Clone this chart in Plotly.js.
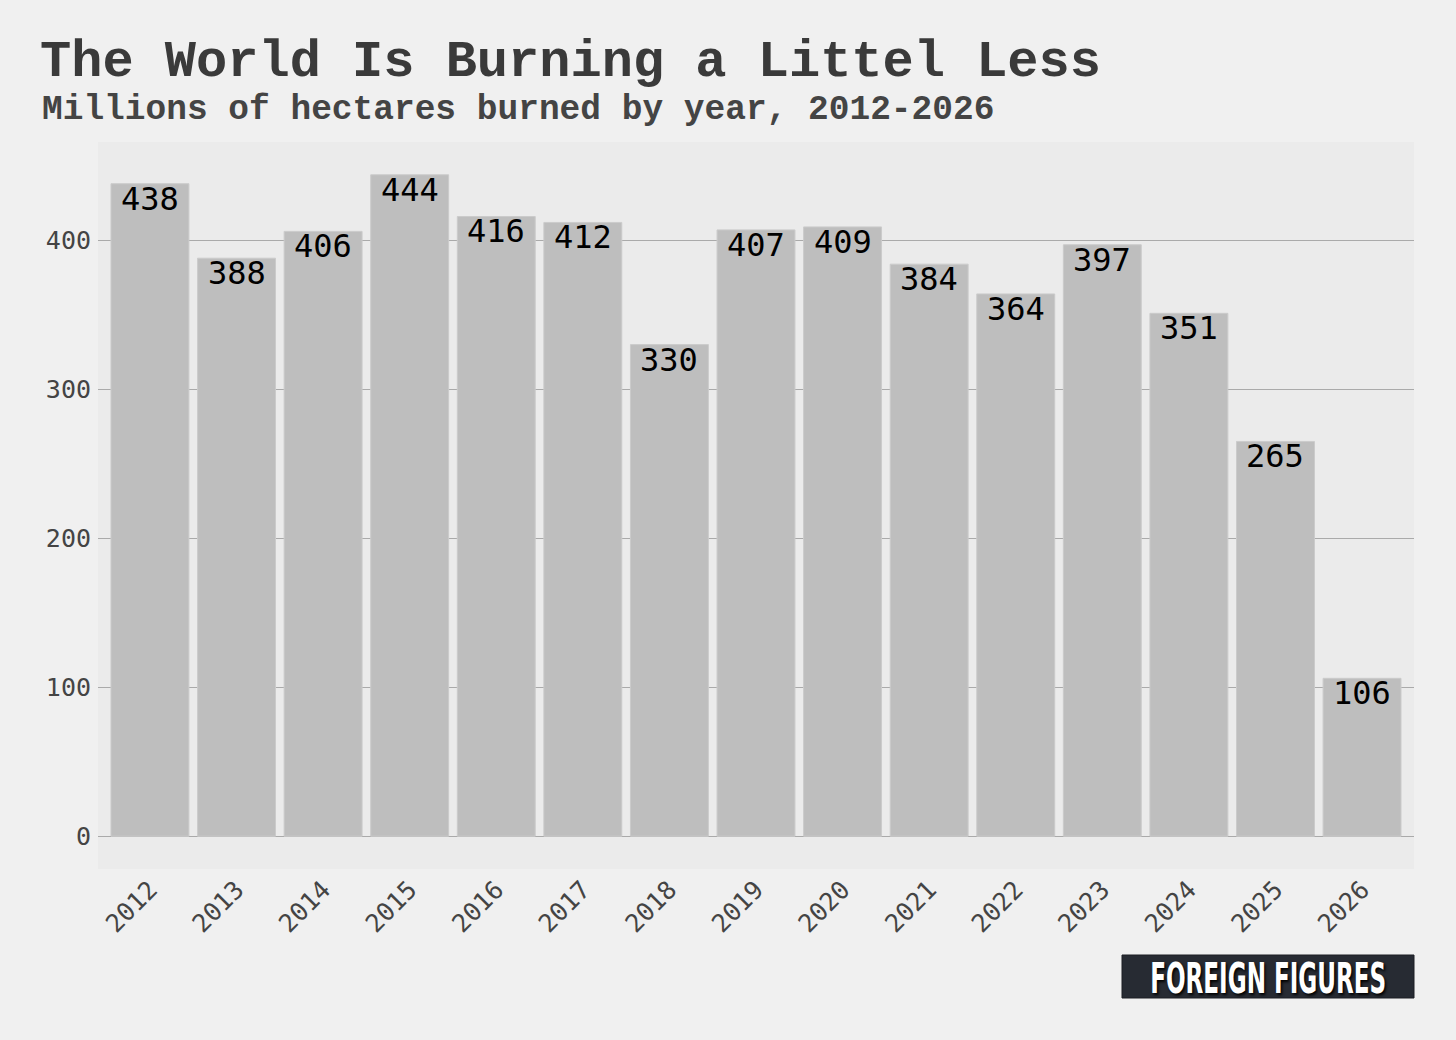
<!DOCTYPE html>
<html>
<head>
<meta charset="utf-8">
<script src="https://cdn.plot.ly/plotly-3.0.1.min.js"></script>
<style>
  html, body { margin: 0; padding: 0; background: #f0f0f0; }
  #chart { width: 1456px; height: 1040px; }
</style>
</head>
<body>
<div id="chart"></div>
<script>
'use strict';

// Data
var years = ['2012', '2013', '2014', '2015', '2016', '2017', '2018', '2019',
    '2020', '2021', '2022', '2023', '2024', '2025', '2026'];
var hectares = [438, 388, 406, 444, 416, 412, 330, 407, 409, 384, 364, 397, 351, 265, 106];
var yTicks = [0, 100, 200, 300, 400];

var titleText = 'The World Is Burning a Littel Less';
var subtitleText = 'Millions of hectares burned by year, 2012-2026';
var logoText = 'FOREIGN FIGURES';

function squeezeLogo(node, targetWidth) {
    // no narrow display face installed, so squeeze the logo text by hand
    var texts = node.querySelectorAll('.annotation');
    var logo = texts[texts.length - 1];
    if (!logo) return;
    var t = logo.querySelector('text');
    if (!t) return;
    var box = t.getBBox();
    var cx = box.x + box.width / 2;
    var s = targetWidth / box.width;
    t.setAttribute('transform',
        'translate(' + cx + ',0) scale(' + s + ',1) translate(' + (-cx) + ',0)');
}

function draw(node) {

    var trace = {
        type: 'bar',
        x: years,
        y: hectares,
        marker: {
            color: '#bebebe',
            line: { color: '#cbcbcb', width: 1 }
        },
        hoverinfo: 'none'
    };

    // value labels just under each bar top
    // (x as category index: year strings look numeric to annotations)
    var labels = years.map(function (year, i) {
        return {
            x: i,
            y: hectares[i],
            xref: 'x', yref: 'y',
            text: String(hectares[i]),
            showarrow: false,
            yanchor: 'top',
            yshift: 6,
            font: { family: 'DejaVu Sans Mono', size: 32, color: '#000000' }
        };
    });

    var annotations = labels.concat([{
        text: '<b>' + subtitleText + '</b>',
        xref: 'paper', yref: 'paper',
        x: (40 - 98) / 1316,
        y: (869 - 110) / 727,
        xanchor: 'left', yanchor: 'middle',
        showarrow: false,
        font: { family: 'Liberation Mono', size: 34.5, color: '#444444' }
    }, {
        text: '<b>' + logoText + '</b>',
        xref: 'paper', yref: 'paper',
        x: (1268 - 98) / 1316,
        y: (869 - 978) / 727,
        xanchor: 'center', yanchor: 'middle',
        showarrow: false,
        font: {
            family: 'Liberation Sans Narrow, DejaVu Sans Condensed, Liberation Sans',
            size: 42,
            color: '#ffffff',
            shadow: '2px 2px 3px #000000'
        }
    }]);

    var layout = {
        width: 1456,
        height: 1040,
        paper_bgcolor: '#f0f0f0',
        plot_bgcolor: '#ebebeb',
        margin: { l: 98, r: 42, t: 142, b: 171 },
        bargap: 0.1,
        showlegend: false,
        title: {
            text: '<b>' + titleText + '</b>',
            font: { family: 'Liberation Mono', size: 52, color: '#3a3a3a' },
            xref: 'container',
            x: 40 / 1456,
            xanchor: 'left',
            yref: 'container',
            y: 1 - 58 / 1040,
            yanchor: 'middle'
        },
        xaxis: {
            type: 'category',
            range: [-0.6, 14.6],
            tickangle: -45,
            tickfont: { family: 'DejaVu Sans Mono', size: 25, color: '#444444' },
            showgrid: false,
            showline: false,
            ticks: ''
        },
        yaxis: {
            range: [-22, 466],
            tickvals: yTicks,
            tickfont: { family: 'DejaVu Sans Mono', size: 25, color: '#444444' },
            gridcolor: '#aaaaaa',
            gridwidth: 1,
            zeroline: true,
            zerolinecolor: '#aaaaaa',
            zerolinewidth: 1,
            showline: false,
            ticks: '',
            ticklabelstandoff: 6
        },
        shapes: [{
            type: 'rect',
            xref: 'paper', yref: 'paper',
            x0: (1122 - 98) / 1316, x1: 1,
            y0: (869 - 998) / 727, y1: (869 - 955) / 727,
            fillcolor: '#272b33',
            line: { color: '#1c1f25', width: 1 },
            layer: 'above'
        }],
        annotations: annotations
    };

    Plotly.newPlot(node, [trace], layout, { displayModeBar: false, staticPlot: true })
        .then(function () { squeezeLogo(node, 236); });
}

draw(document.getElementById('chart'));
</script>
</body>
</html>
